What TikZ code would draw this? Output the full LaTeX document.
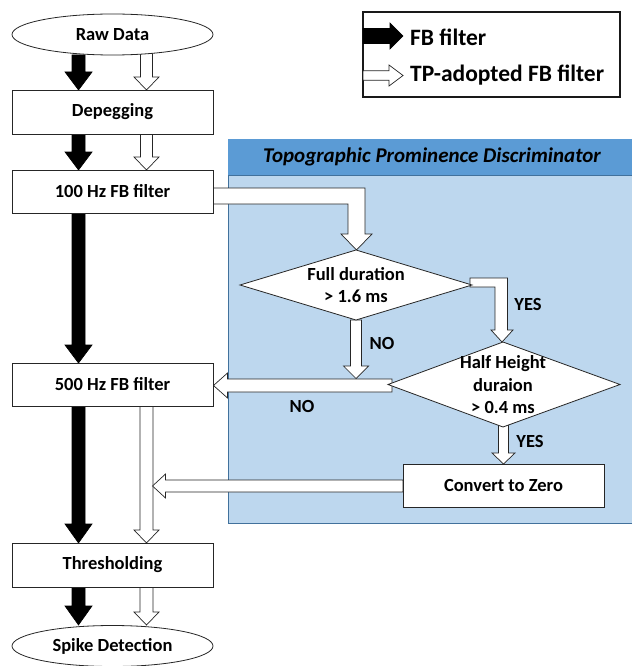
\documentclass[tikz,border=0pt]{standalone}
\usepackage{fontspec}
\setmainfont{Carlito}
\usetikzlibrary{shapes.geometric}
\pgfdeclarelayer{bg}
\pgfdeclarelayer{arr}
\pgfsetlayers{bg,arr,main}
\definecolor{hdrblue}{HTML}{5B9BD5}
\definecolor{bodyblue}{HTML}{BDD7EE}
\definecolor{edgeblue}{HTML}{41719C}
\newcommand{\blkdown}[7]{\path[#1] (#2-#5,#3) -- (#2-#5,#4-#7) -- (#2-#6,#4-#7) -- (#2,#4) -- (#2+#6,#4-#7) -- (#2+#5,#4-#7) -- (#2+#5,#3) -- cycle;}
\newcommand{\blkright}[7]{\path[#1] (#2,#3-#5) -- (#4-#7,#3-#5) -- (#4-#7,#3-#6) -- (#4,#3) -- (#4-#7,#3+#6) -- (#4-#7,#3+#5) -- (#2,#3+#5) -- cycle;}
\newcommand{\blkleft}[7]{\path[#1] (#2,#3-#5) -- (#4+#7,#3-#5) -- (#4+#7,#3-#6) -- (#4,#3) -- (#4+#7,#3+#6) -- (#4+#7,#3+#5) -- (#2,#3+#5) -- cycle;}
\tikzset{
  boxnode/.style={draw=black!85, line width=0.8pt, fill=white, minimum width=201pt, minimum height=43pt, inner sep=0pt, font=\fontsize{18.5}{22}\selectfont\bfseries},
  ellnode/.style={ellipse, draw=black!85, line width=0.8pt, fill=white, minimum width=201pt, minimum height=41pt, inner sep=0pt, font=\fontsize{18.5}{22}\selectfont\bfseries},
  txtnode/.style={align=center, inner sep=0pt, font=\fontsize{18.5}{22.5}\selectfont\bfseries},
  lblnode/.style={inner sep=0pt, font=\fontsize{18.5}{22}\selectfont\bfseries},
  blackarr/.style={fill=black, draw=black, line width=0.6pt},
  whitearr/.style={fill=white, draw=black!85, line width=0.7pt},
  diam/.style={fill=white, draw=black!85, line width=0.8pt}
}
\begin{document}
\begin{tikzpicture}[x=1pt,y=-1pt]
\useasboundingbox (0,0) rectangle (632,666);

% ---- TPD region ----
\begin{pgfonlayer}{bg}
\fill[bodyblue] (228,139) rectangle (632,523);
\draw[edgeblue, line width=0.8pt] (632,523) -- (228,523) -- (228,139);
\fill[hdrblue] (228,139) rectangle (632,175);
\draw[edgeblue, line width=0.6pt] (228,175) -- (632,175);
\end{pgfonlayer}
\node[font=\fontsize{21}{24}\selectfont\bfseries\itshape, inner sep=0pt] (tpd) at (432,157) {Topographic Prominence Discriminator};

% ---- main nodes ----
\node[ellnode] (raw) at (112.5,34.5) {Raw Data};
\node[boxnode, minimum height=44pt] (dep) at (112.5,112) {Depegging};
\node[boxnode] (f100) at (112.5,191.5) {100 Hz FB filter};
\node[boxnode] (f500) at (112.5,384.5) {500 Hz FB filter};
\node[boxnode, minimum height=44pt] (thr) at (112.5,565) {Thresholding};
\node[ellnode] (spike) at (112.5,646) {Spike Detection};
\node[boxnode] (conv) at (503.5,485.5) {Convert to Zero};

% ---- diamonds ----
\coordinate (d1) at (356,285);
\draw[diam] (240,285) coordinate (d1l) -- (356,250) coordinate (d1t) -- (472,285) coordinate (d1r) -- (356,320) coordinate (d1b) -- cycle;
\node[txtnode] (d1txt) at (d1) {Full duration\\{>} 1.6 ms};
\coordinate (d2) at (503,384.5);
\draw[diam] (388,384.5) coordinate (d2l) -- (503,342) coordinate (d2t) -- (620,384.5) coordinate (d2r) -- (503,427) coordinate (d2b) -- cycle;
\node[txtnode] (d2txt) at (503,385) {Half Height\\duraion\\{>} 0.4 ms};

% ---- arrows ----
\begin{pgfonlayer}{arr}
% black FB filter path
\blkdown{blackarr}{78.5}{55}{90}{6.5}{13.5}{18}
\blkdown{blackarr}{78.5}{134}{170}{6.5}{13.5}{18}
\blkdown{blackarr}{78.5}{213}{363}{6.5}{13.5}{18}
\blkdown{blackarr}{78.5}{406}{543}{6.5}{13.5}{19}
\blkdown{blackarr}{78.5}{587}{625}{6.5}{13.5}{19}
% white TP-adopted path
\blkdown{whitearr}{146.5}{50}{90}{6}{12.5}{13}
\blkdown{whitearr}{146.5}{134}{170}{6}{12.5}{13}
\blkdown{whitearr}{146.5}{406}{543}{6.5}{12.5}{13}
\blkdown{whitearr}{146.5}{587}{625}{6.5}{12.5}{13}
% 100 Hz -> diamond 1
\path[whitearr] (213,188) -- (365,188) -- (365,234) -- (372,234) -- (356.5,250) -- (341,234) -- (348,234) -- (348,204) -- (213,204) -- cycle;
% diamond 1 YES -> diamond 2
\path[whitearr] (470,278) -- (507.5,278) -- (507.5,330) -- (513,330) -- (502,342) -- (491,330) -- (495,330) -- (495,287) -- (470,287) -- cycle;
% diamond 1 NO down
\blkdown{whitearr}{356}{320}{378.5}{5.5}{12.5}{12.5}
% diamond 2 NO -> 500 Hz
\blkleft{whitearr}{392}{385.5}{213.5}{6.5}{12.5}{14}
% diamond 2 YES down
\blkdown{whitearr}{503.5}{425}{464}{5}{11.5}{11}
% convert -> TP path
\blkleft{whitearr}{403}{486}{152.5}{6}{12}{13}
\end{pgfonlayer}

% ---- labels ----
\node[lblnode] (yes1) at (528,304) {YES};
\node[lblnode] (no1) at (382,343) {NO};
\node[lblnode] (no2) at (302,406) {NO};
\node[lblnode] (yes2) at (530,441) {YES};

% ---- legend ----
\draw[line width=2.5pt, draw=black!90] (363,12) rectangle (620,97);
\coordinate (lgA) at (363,36);
\coordinate (lgB) at (363,75.5);
\blkright{blackarr}{363}{36}{403}{7.5}{13}{13}
\blkright{whitearr}{363}{75.5}{403}{4.7}{10.5}{14}
\node[anchor=west, inner sep=0pt, font=\fontsize{23.5}{26}\selectfont\bfseries] (lg1) at (410,37) {FB filter};
\node[anchor=west, inner sep=0pt, font=\fontsize{23.5}{26}\selectfont\bfseries] (lg2) at (410,75) {TP-adopted FB filter};
\end{tikzpicture}
\end{document}
